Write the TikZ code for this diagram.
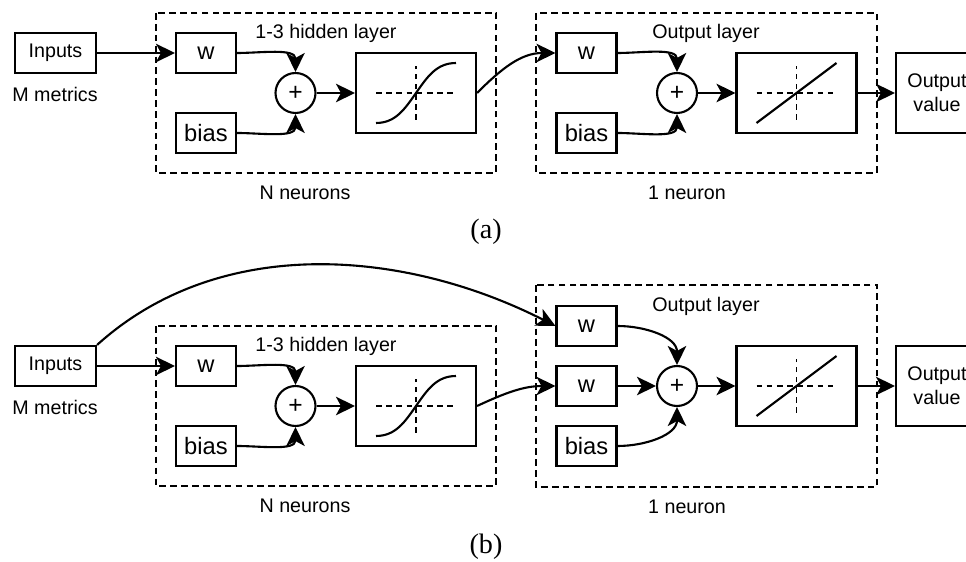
\documentclass[tikz,border=0pt]{standalone}
\usepackage{fontspec}
\setmainfont{Liberation Sans}
\newfontfamily\capfont{Liberation Serif}
\usetikzlibrary{arrows.meta}
\tikzstyle{blk} = [draw=black, line width=1.2pt, minimum width=1.2cm, minimum height=0.8cm, inner sep=0pt, font=\fontsize{13.5}{15}\selectfont]
\tikzstyle{act} = [blk, minimum width=2.4cm, minimum height=1.6cm]
\tikzstyle{sum} = [circle, draw=black, line width=1.2pt, minimum size=0.8cm, inner sep=0pt, font=\fontsize{14}{15}\selectfont]
\tikzstyle{lbl} = [inner sep=0pt, font=\fontsize{11.2}{13}\selectfont]
\tikzstyle{capt} = [inner sep=0pt, font=\capfont\fontsize{16}{18}\selectfont]
\tikzstyle{layer} = [draw=black, line width=1pt, dash pattern=on 3.8pt off 2.4pt]
\tikzstyle{con} = [line width=1.2pt, -{Stealth[length=0.38cm,width=0.37cm,inset=0.1cm]}]
\tikzstyle{axis} = [line width=1pt, dash pattern=on 3.2pt off 2.6pt]
\newcommand{\sigplot}[1]{
  \draw[axis] ([xshift=-0.8cm]#1.center) -- ([xshift=0.8cm]#1.center);
  \draw[axis] ([yshift=-0.54cm]#1.center) -- ([yshift=0.54cm]#1.center);
  \draw[line width=1.2pt] ([shift={(-0.8cm,-0.6cm)}]#1.center) to[out=0,in=235] (#1.center)
    to[out=55,in=180] ([shift={(0.8cm,0.6cm)}]#1.center);
}
\newcommand{\linplot}[1]{
  \draw[axis] ([xshift=-0.8cm]#1.center) -- ([xshift=0.8cm]#1.center);
  \draw[axis] ([yshift=-0.54cm]#1.center) -- ([yshift=0.54cm]#1.center);
  \draw[line width=1.2pt] ([shift={(-0.8cm,-0.6cm)}]#1.center) -- ([shift={(0.8cm,0.6cm)}]#1.center);
}

\begin{document}
\begin{tikzpicture}[x=0.02cm, y=0.02cm]
			\useasboundingbox (0,0) rectangle (966,561);
			% (a)
			\draw[layer] (156,548) rectangle (496,388);
			\draw[layer] (536,548) rectangle (877,388);
			\node [blk, minimum width=1.62cm, font=\fontsize{11.2}{13}\selectfont] (inA) at (55.5,508) {Inputs};
			\node [lbl] (mA) at (55,467) {M metrics};
			\node [blk] (wA) at (206,508) {w};
			\node [blk] (bA) at (206,428) {bias};
			\node [sum] (pA) at (295.5,468) {+};
			\node [act] (sgA) at (416,468) {};
			\node [lbl] (hA) at (326,528) {1-3 hidden layer};
			\node [lbl] (nA) at (305,368) {N neurons};
			\node [blk] (owA) at (586.5,508) {w};
			\node [blk] (obA) at (586.5,428) {bias};
			\node [sum] (opA) at (677,468) {+};
			\node [act] (lnA) at (796.5,468) {};
			\node [lbl] (oA) at (706,528) {Output layer};
			\node [lbl] (n1A) at (687,368) {1 neuron};
			\node [blk, minimum width=1.64cm, minimum height=1.6cm, align=center, font=\fontsize{11.2}{13.5}\selectfont] (ovA) at (937,468) {Output\\value};
			\node [capt] (capA) at (486,329) {(a)};
			\sigplot{sgA}
			\linplot{lnA}
			\draw[con] (inA) -- (wA);
			\draw[con] (wA.east) to[out=0,in=90] (pA.north);
			\draw[con] (bA.east) to[out=0,in=270] (pA.south);
			\draw[con] (pA) -- (sgA);
			\draw[con] (sgA.east) to[out=45,in=180] (owA.west);
			\draw[con] (owA.east) to[out=0,in=90] (opA.north);
			\draw[con] (obA.east) to[out=0,in=270] (opA.south);
			\draw[con] (opA) -- (lnA);
			\draw[con] (lnA) -- (ovA);
			% (b)
			\draw[layer] (156,235) rectangle (496,75);
			\draw[layer] (536,276) rectangle (877,74);
			\node [blk, minimum width=1.62cm, font=\fontsize{11.2}{13}\selectfont] (inB) at (55.5,195) {Inputs};
			\node [lbl] (mB) at (55,154) {M metrics};
			\node [blk] (wB) at (206,195) {w};
			\node [blk] (bB) at (206,115) {bias};
			\node [sum] (pB) at (295.5,155) {+};
			\node [act] (sgB) at (416,155) {};
			\node [lbl] (hB) at (326,215) {1-3 hidden layer};
			\node [lbl] (nB) at (305,55) {N neurons};
			\node [blk] (ow1B) at (586.5,235) {w};
			\node [blk] (ow2B) at (586.5,175) {w};
			\node [blk] (obB) at (586.5,115) {bias};
			\node [sum] (opB) at (677,175) {+};
			\node [act] (lnB) at (796.5,175) {};
			\node [lbl] (oB) at (706,255) {Output layer};
			\node [lbl] (n1B) at (687,54) {1 neuron};
			\node [blk, minimum width=1.64cm, minimum height=1.6cm, align=center, font=\fontsize{11.2}{13.5}\selectfont] (ovB) at (937,175) {Output\\value};
			\node [capt] (capB) at (486,14) {(b)};
			\sigplot{sgB}
			\linplot{lnB}
			\draw[con] (inB.north east) .. controls (221,328) and (406,311) .. (ow1B.west);
			\draw[con] (inB) -- (wB);
			\draw[con] (wB.east) to[out=0,in=90] (pB.north);
			\draw[con] (bB.east) to[out=0,in=270] (pB.south);
			\draw[con] (pB) -- (sgB);
			\draw[con] (sgB.east) to[out=25,in=180] (ow2B.west);
			\draw[con] (ow1B.east) to[out=0,in=90] (opB.north);
			\draw[con] (ow2B) -- (opB);
			\draw[con] (obB.east) to[out=0,in=270] (opB.south);
			\draw[con] (opB) -- (lnB);
			\draw[con] (lnB) -- (ovB);
		\end{tikzpicture}
\end{document}
